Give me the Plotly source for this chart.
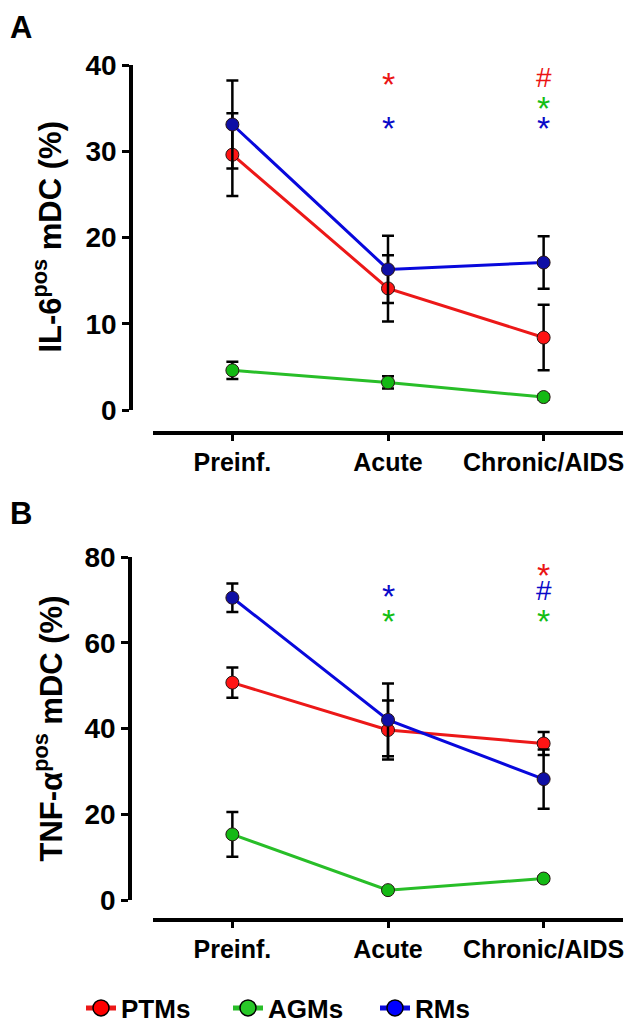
import plotly.graph_objects as go

# ---------------- data ----------------
categories = ["Preinf.", "Acute", "Chronic/AIDS"]
groups = ["PTMs", "AGMs", "RMs"]

il6_PTMs = [29.6, 14.1, 8.4]
il6_AGMs = [4.6, 3.2, 1.5]
il6_RMs = [33.1, 16.3, 17.1]
il6_PTMs_err = [4.8, 3.85, 3.8]
il6_AGMs_err = [1.0, 0.7, 0.3]
il6_RMs_err = [5.1, 3.9, 3.05]

tnf_PTMs = [50.7, 39.65, 36.5]
tnf_AGMs = [15.3, 2.3, 5.0]
tnf_RMs = [70.5, 42.0, 28.2]
tnf_PTMs_err = [3.5, 6.9, 2.7]
tnf_AGMs_err = [5.2, 0.5, 0.5]
tnf_RMs_err = [3.3, 8.5, 6.9]

# significance marks: (category index, symbol, group, y level)
sig_A = [(1, "*", "PTMs", 38.7), (1, "*", "RMs", 33.6),
         (2, "#", "PTMs", 38.5), (2, "*", "AGMs", 35.9), (2, "*", "RMs", 33.6)]
sig_B = [(1, "*", "RMs", 72.8), (1, "*", "AGMs", 66.9),
         (2, "*", "PTMs", 77.7), (2, "#", "RMs", 72.3), (2, "*", "AGMs", 66.9)]

# ---------------- style ----------------
line_col = {"PTMs": "rgb(236,24,24)", "AGMs": "rgb(40,190,40)", "RMs": "rgb(8,8,220)"}
fill_col = {"PTMs": "rgb(255,20,20)", "AGMs": "rgb(20,185,20)", "RMs": "rgb(15,15,165)"}
leg_fill = {"PTMs": "rgb(255,0,0)", "AGMs": "rgb(40,200,40)", "RMs": "rgb(0,0,255)"}
sig_col = {"PTMs": "rgb(235,20,20)", "AGMs": "rgb(20,190,20)", "RMs": "rgb(10,10,200)"}
FONT = "Liberation Sans, Arial, sans-serif"

# page body has an 8px margin: lay out in window pixels, convert to paper
OFF = 8
W, H = 636 - OFF, 1030 - OFF
def px(x):
    return (x - OFF) / W
def py(y):
    return 1 - (y - OFF) / H

fig = go.Figure()
xs = list(range(len(categories)))

panels = [
    ("x", "y", {"PTMs": (il6_PTMs, il6_PTMs_err), "AGMs": (il6_AGMs, il6_AGMs_err), "RMs": (il6_RMs, il6_RMs_err)}),
    ("x2", "y2", {"PTMs": (tnf_PTMs, tnf_PTMs_err), "AGMs": (tnf_AGMs, tnf_AGMs_err), "RMs": (tnf_RMs, tnf_RMs_err)}),
]
for xa, ya, d in panels:
    for g in ["AGMs", "PTMs", "RMs"]:
        vals, errs = d[g]
        fig.add_trace(go.Scatter(
            x=xs, y=vals, xaxis=xa, yaxis=ya, mode="lines+markers", name=g,
            showlegend=False, cliponaxis=False,
            line=dict(color=line_col[g], width=3),
            marker=dict(size=13, color=fill_col[g], line=dict(color="rgb(40,20,20)", width=1)),
            error_y=dict(type="data", array=errs, visible=True, color="black", thickness=2.5, width=6),
        ))

# legend-only traces
for g in groups:
    fig.add_trace(go.Scatter(
        x=[None], y=[None], mode="lines+markers", name=g, showlegend=True,
        line=dict(color=line_col[g], width=5),
        marker=dict(size=22, color=leg_fill[g], line=dict(color="black", width=1.5)),
    ))

annotations = []
for xa, ya, sig in [("x", "y", sig_A), ("x2", "y2", sig_B)]:
    for ci, sym, g, lev in sig:
        annotations.append(dict(
            x=ci, y=lev, xref=xa, yref=ya, text=sym, showarrow=False,
            font=dict(family=FONT, size=34 if sym == "*" else 28, color=sig_col[g]),
            xanchor="center", yanchor="middle", yshift=-8 if sym == "*" else 0,
        ))

# axis titles and panel letters
annotations += [
    dict(x=px(48), y=(py(410) + py(65)) / 2, xref="paper", yref="paper",
         text="IL-6<sup>pos</sup> mDC (%)", textangle=-90, showarrow=False,
         font=dict(family=FONT, size=31, color="black", weight="bold"),
         xanchor="center", yanchor="middle"),
    dict(x=px(48), y=(py(900) + py(557)) / 2, xref="paper", yref="paper",
         text="TNF-α<sup>pos</sup> mDC (%)", textangle=-90, showarrow=False,
         font=dict(family=FONT, size=31, color="black", weight="bold"),
         xanchor="center", yanchor="middle"),
    dict(x=px(8), y=py(8), xref="paper", yref="paper", text="A", showarrow=False,
         font=dict(family=FONT, size=31, color="black", weight="bold"),
         xanchor="left", yanchor="top"),
    dict(x=px(8), y=py(514), xref="paper", yref="paper", text="B", showarrow=False,
         font=dict(family=FONT, size=31, color="black", weight="bold"),
         xanchor="left", yanchor="middle"),
]

xaxis_common = dict(
    range=[-0.51, 2.51], tickvals=xs, ticktext=categories, showline=True, linewidth=4,
    linecolor="black", ticks="outside", ticklen=6, tickwidth=3, tickcolor="black",
    tickfont=dict(family=FONT, size=25, color="black", weight="bold"),
    showgrid=False, zeroline=False, anchor="free", fixedrange=True, automargin=False,
)
yaxis_common = dict(
    showline=True, linewidth=3.5, linecolor="black", ticks="outside", ticklen=7,
    tickwidth=3, tickcolor="black",
    tickfont=dict(family=FONT, size=28, color="black", weight="bold"),
    showgrid=False, zeroline=False, anchor="free", fixedrange=True, automargin=False,
)

fig.update_layout(
    template="none",
    width=W, height=H, margin=dict(l=0, r=0, t=0, b=0, autoexpand=False),
    paper_bgcolor="white", plot_bgcolor="white",
    xaxis=dict(domain=[px(153), px(623)], position=py(433), **xaxis_common),
    yaxis=dict(domain=[py(410), py(65)], range=[0, 40], dtick=10, position=px(131), **yaxis_common),
    xaxis2=dict(domain=[px(153), px(623)], position=py(920), **xaxis_common),
    yaxis2=dict(domain=[py(900), py(557)], range=[0, 80], dtick=20, position=px(130), **yaxis_common),
    annotations=annotations,
    showlegend=True,
    legend=dict(orientation="h", x=px(81), y=py(1008), xanchor="left", yanchor="middle",
                font=dict(family=FONT, size=26, color="black", weight="bold"),
                bgcolor="rgba(0,0,0,0)", itemwidth=30, entrywidth=102, entrywidthmode="pixels"),
)

fig.write_html("out.html", config={"responsive": False})
